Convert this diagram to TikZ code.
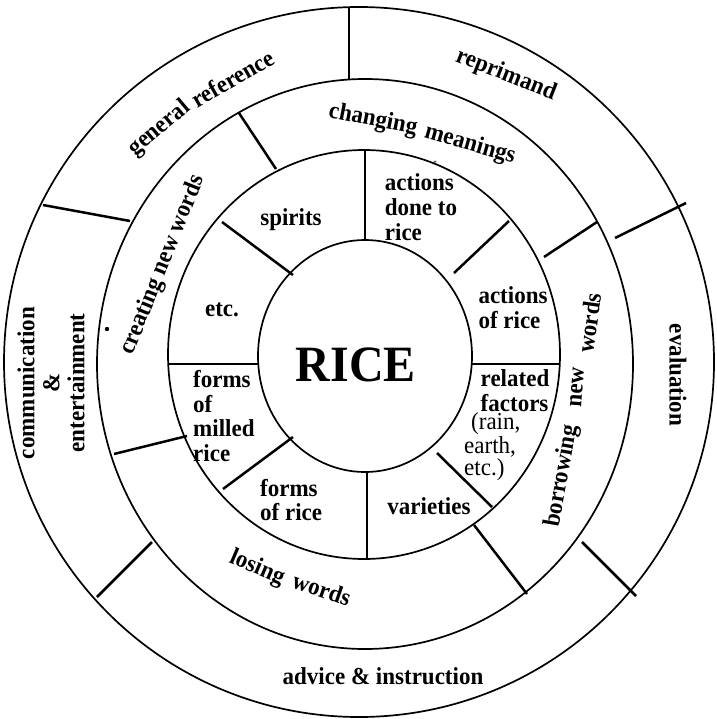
\documentclass[tikz,border=0pt]{standalone}
\usepackage{fontspec}
\setmainfont{Liberation Serif}
\begin{document}
\begin{tikzpicture}[x=1pt,y=-1pt,
  ring/.style={line width=1.7pt},
  divthin/.style={line width=1.5pt},
  divthick/.style={line width=2.5pt},
  lbl/.style={font=\fontsize{23}{23.5}\selectfont\bfseries, inner sep=0pt, align=center},
  lbll/.style={lbl, align=left},
  reg/.style={font=\fontsize{23}{23.5}\selectfont, inner sep=0pt},
  tall/.style={yscale=1.06}
]
\useasboundingbox (0,0) rectangle (716,719);
% rings
\draw[ring] (365,356) ellipse [x radius=107pt, y radius=116pt];
\draw[ring] (364,354.5) ellipse [x radius=196pt, y radius=204.5pt];
\draw[ring] (365,364) ellipse [x radius=268pt, y radius=285pt];
\draw[ring] (359,362) ellipse [x radius=355pt, y radius=355pt];
% inner ring dividers
\draw[divthin] (365,150) -- (365,240);
\draw[divthin] (367,472) -- (367,560);
\draw[divthin] (472,364) -- (560,364);
\draw[divthin] (168,364) -- (258,364);
\draw[divthick] (454,273) -- (509,221);
\draw[divthick] (437,453) -- (492,507);
\draw[divthick] (223,489) -- (293,437);
\draw[divthick] (222,222) -- (293,275);
% middle ring dividers
\draw[divthick] (239,113) -- (276,169);
\draw[divthick] (114,454) -- (187,436);
\draw[divthick] (474,525) -- (527,594);
\draw[divthick] (544,257) -- (597,222);
% outer ring dividers
\draw[divthin] (349,7) -- (349,79);
\draw[divthick] (43,205) -- (130,221);
\draw[divthick] (97,597) -- (152,542);
\draw[divthick] (582,542) -- (636,596);
\draw[divthick] (615,238) -- (686,203);
% centre
\node[lbl, tall] (rice) at (356,365) {\fontsize{48}{48}\selectfont RICE};
% inner ring labels
\node[lbl, tall] (spirits) at (291,220) {spirits};
\node[lbll, tall] (adr) at (421,207) {actions\\done to\\rice};
\node[lbll, tall] (aor) at (513,308) {actions\\of rice};
\node[lbl, tall] (etc) at (222,310) {etc.};
\node[lbll, tall] (rel) at (515,391) {related\\factors};
\node[reg, tall, anchor=west] (rain) at (471,424) {(rain,};
\node[reg, tall, anchor=west] (earth) at (464,447) {earth,};
\node[reg, tall, anchor=west] (etcb) at (464,470) {etc.)};
\node[lbl, tall] (var) at (429,506) {varieties};
\node[lbll, tall, anchor=west] (forms) at (260,500) {forms\\of rice};
\node[lbll, tall, anchor=west] (milled) at (193,416) {forms\\of\\milled\\rice};
% middle ring labels
\node[lbl, rotate=-11, tall] (chg) at (373,120) {changing};
\node[lbl, rotate=-16, tall] (mean) at (470,145) {meanings};
\node[lbl, rotate=68, tall] (create) at (163,265) {creating new words};
\node[lbl, rotate=80, tall] (borrow) at (562,476) {borrowing};
\node[lbl, rotate=86, tall] (new) at (577,387) {new};
\node[lbl, rotate=82, tall] (wordsa) at (589,323) {words};
\node[lbl, rotate=-23, tall] (losing) at (257,568) {losing};
\node[lbl, rotate=-19, tall] (wordsb) at (322,589) {words};
% outer ring labels
\node[lbl, rotate=40, tall] (gen) at (159.5,128.5) {general};
\node[lbl, rotate=30, tall] (ref) at (232.5,78.5) {reference};
\node[lbl, rotate=-21.5, tall] (repr) at (506,75) {reprimand};
\node[lbl, rotate=90, tall] (comm) at (51,383) {communication\\\&\\entertainment};
\node[lbl, rotate=-90, tall] (eval) at (678,375) {evaluation};
\node[lbl, tall] (adv) at (383,676) {advice \& instruction};
% marks
\fill (107,329) circle [radius=2.2pt];
\node[font=\fontsize{7}{7}\selectfont, inner sep=0pt] (ast) at (435,163) {*};
\end{tikzpicture}
\end{document}
